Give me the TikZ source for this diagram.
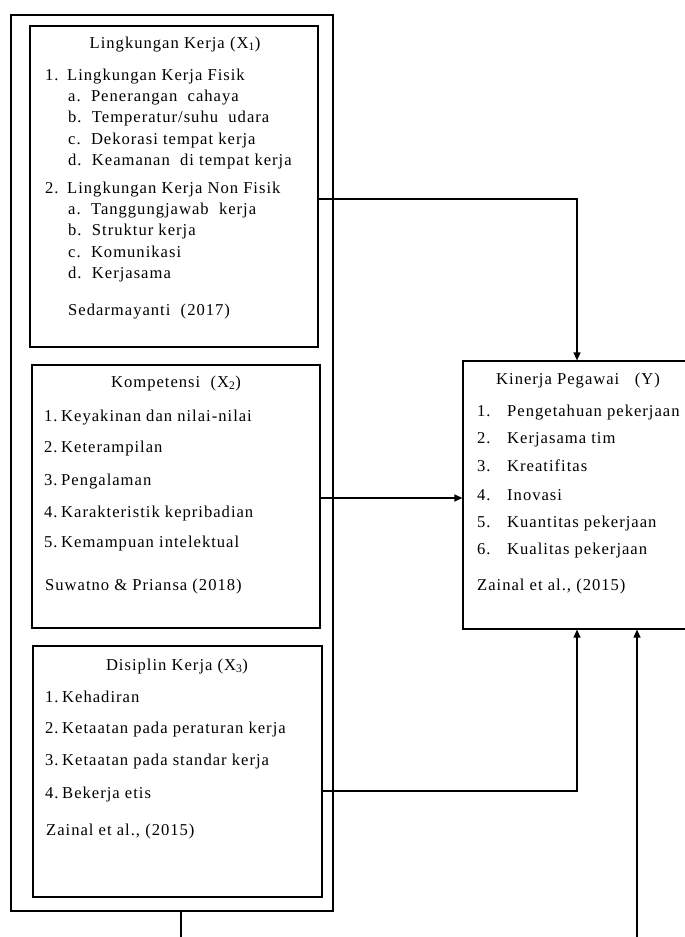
\documentclass[tikz,border=0pt]{standalone}
\usepackage{fontspec}
\setmainfont{Liberation Serif}[LetterSpace=6]
\usetikzlibrary{arrows.meta}
\begin{document}
\begin{tikzpicture}[x=1pt,y=-1pt,
  box/.style={draw,line width=1.2pt,inner sep=0pt,minimum width=#1},
  txt/.style={inner sep=0pt,anchor=base west,font=\fontsize{16.6}{19}\selectfont},
  ttl/.style={inner sep=0pt,anchor=base,font=\fontsize{16.6}{19}\selectfont},
  conn/.style={line width=1.2pt},
  arr/.style={line width=1.2pt,-{Triangle[length=8pt,width=7pt]}}]
\useasboundingbox (0,0) rectangle (685,937);
% boxes
\node[box=322pt,minimum height=896pt] (outer) at (172,463) {};
\node[box=288pt,minimum height=321pt] (x1) at (174,186.5) {};
\node[box=288pt,minimum height=263pt] (x2) at (176,496.5) {};
\node[box=289pt,minimum height=251pt] (x3) at (177.5,771.5) {};
\node[box=228pt,minimum height=268pt] (y) at (577,495) {};
% X1 text
\node[ttl] (x1t) at (175,48) {Lingkungan Kerja (X\textsubscript{1})};
\node[txt] (x1n1) at (45,80) {1.};
\node[txt] (x1i1) at (67,80) {Lingkungan Kerja Fisik};
\node[txt] (x1a1) at (68,101) {a.\ \ Penerangan\ \ cahaya};
\node[txt] (x1b1) at (68,122) {b.\ \ Temperatur/suhu\ \ udara};
\node[txt] (x1c1) at (68,144) {c.\ \ Dekorasi tempat kerja};
\node[txt] (x1d1) at (68,165) {d.\ \ Keamanan\ \ di tempat kerja};
\node[txt] (x1n2) at (45,193) {2.};
\node[txt] (x1i2) at (67,193) {Lingkungan Kerja Non Fisik};
\node[txt] (x1a2) at (68,214) {a.\ \ Tanggungjawab\ \ kerja};
\node[txt] (x1b2) at (68,235) {b.\ \ Struktur kerja};
\node[txt] (x1c2) at (68,257) {c.\ \ Komunikasi};
\node[txt] (x1d2) at (68,278) {d.\ \ Kerjasama};
\node[txt] (x1s) at (68,315) {Sedarmayanti\ \ (2017)};
% X2 text
\node[ttl] (x2t) at (176,387) {Kompetensi\ \ (X\textsubscript{2})};
\node[txt] (x2n1) at (44,421) {1.};
\node[txt] (x2i1) at (61,421) {Keyakinan dan nilai-nilai};
\node[txt] (x2n2) at (44,452) {2.};
\node[txt] (x2i2) at (61,452) {Keterampilan};
\node[txt] (x2n3) at (44,485) {3.};
\node[txt] (x2i3) at (61,485) {Pengalaman};
\node[txt] (x2n4) at (44,517) {4.};
\node[txt] (x2i4) at (61,517) {Karakteristik kepribadian};
\node[txt] (x2n5) at (44,547) {5.};
\node[txt] (x2i5) at (61,547) {Kemampuan intelektual};
\node[txt] (x2s) at (45,590) {Suwatno \& Priansa (2018)};
% X3 text
\node[ttl] (x3t) at (177,670) {Disiplin Kerja (X\textsubscript{3})};
\node[txt] (x3n1) at (45,702) {1.};
\node[txt] (x3i1) at (62,702) {Kehadiran};
\node[txt] (x3n2) at (45,733) {2.};
\node[txt] (x3i2) at (62,733) {Ketaatan pada peraturan kerja};
\node[txt] (x3n3) at (45,765) {3.};
\node[txt] (x3i3) at (62,765) {Ketaatan pada standar kerja};
\node[txt] (x3n4) at (45,798) {4.};
\node[txt] (x3i4) at (62,798) {Bekerja etis};
\node[txt] (x3s) at (46,835) {Zainal et al., (2015)};
% Y text
\node[ttl] (yt) at (578,384) {Kinerja Pegawai\ \ \ (Y)};
\node[txt] (yn1) at (477,416) {1.};
\node[txt] (yi1) at (507,416) {Pengetahuan pekerjaan};
\node[txt] (yn2) at (477,443) {2.};
\node[txt] (yi2) at (507,443) {Kerjasama tim};
\node[txt] (yn3) at (477,471) {3.};
\node[txt] (yi3) at (507,471) {Kreatifitas};
\node[txt] (yn4) at (477,500) {4.};
\node[txt] (yi4) at (507,500) {Inovasi};
\node[txt] (yn5) at (477,527) {5.};
\node[txt] (yi5) at (507,527) {Kuantitas pekerjaan};
\node[txt] (yn6) at (477,554) {6.};
\node[txt] (yi6) at (507,554) {Kualitas pekerjaan};
\node[txt] (ys) at (477,590) {Zainal et al., (2015)};
% connectors
\coordinate (p1) at (577,199);
\coordinate (p2) at (463,498);
\coordinate (p3) at (577,791);
\coordinate (p4) at (181,937);
\coordinate (p5) at (637,937);
\draw[arr] (x1.east |- p1) -| (y.north);
\draw[arr] (x2.east |- p2) -- (y.west |- p2);
\draw[arr] (x3.east |- p3) -| (y.south);
\draw[conn] (outer.south -| p4) -- (p4);
\draw[arr] (p5) -- (y.south -| p5);
\end{tikzpicture}
\end{document}
